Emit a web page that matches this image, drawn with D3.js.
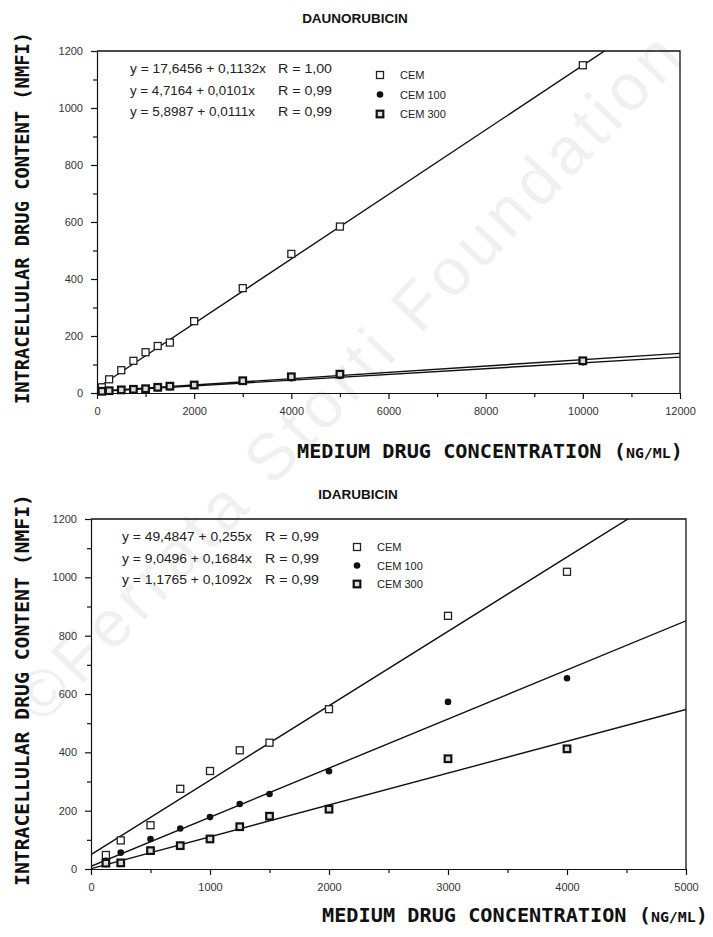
<!DOCTYPE html>
<html>
<head>
<meta charset="utf-8">
<script src="https://cdn.jsdelivr.net/npm/d3@7"></script>
<style>
  body { margin: 0; background: #fff; }
  svg { display: block; }
  .tick text { font-family: "Liberation Sans", Arial, sans-serif; font-size: 11px; fill: #333; }
  .axis path, .axis line { stroke: #111; stroke-width: 1.2; }
</style>
</head>
<body>
<svg id="chart" width="713" height="937"></svg>
<script>
// ---- data ----
var seriesNames = ["CEM", "CEM 100", "CEM 300"];

// daunorubicin panel
var dauConc = [100, 250, 500, 750, 1000, 1250, 1500, 2000, 3000, 4000, 5000, 10000];
var dauCEM = [20, 48, 80, 113, 143, 165, 177, 252, 368, 488, 584, 1150];
var dauCEM100 = [5, 7, 9, 11, 13, 17, 20, 25, 40, 52, 60, 108];
var dauCEM300 = [6, 8, 11, 13, 15, 20, 24, 28, 43, 57, 66, 113];
var dauIntercepts = [17.6456, 4.7164, 5.8987];
var dauSlopes = [0.1132, 0.0101, 0.0111];
var dauEquations = ["y = 17,6456 + 0,1132x", "y = 4,7164 + 0,0101x", "y = 5,8987 + 0,0111x"];
var dauR = ["R = 1,00", "R = 0,99", "R = 0,99"];
var dauXTicks = [0, 2000, 4000, 6000, 8000, 10000, 12000];

// idarubicin panel
var idaConc = [125, 250, 500, 750, 1000, 1250, 1500, 2000, 3000, 4000];
var idaCEM = [48, 98, 150, 275, 336, 407, 433, 548, 868, 1019];
var idaCEM100 = [28, 56, 103, 139, 178, 223, 257, 335, 573, 654];
var idaCEM300 = [20, 21, 63, 80, 103, 145, 181, 205, 378, 412];
var idaIntercepts = [49.4847, 9.0496, 1.1765];
var idaSlopes = [0.255, 0.1684, 0.1092];
var idaEquations = ["y = 49,4847 + 0,255x", "y = 9,0496 + 0,1684x", "y = 1,1765 + 0,1092x"];
var idaR = ["R = 0,99", "R = 0,99", "R = 0,99"];
var idaXTicks = [0, 1000, 2000, 3000, 4000, 5000];

var yTicks = [0, 200, 400, 600, 800, 1000, 1200];

var svg = d3.select("#chart");

// watermark, behind everything
svg.append("text")
    .attr("transform", "translate(42,726) rotate(-46)")
    .attr("textLength", 925)
    .style("font-family", "Liberation Sans, Arial, sans-serif")
    .style("font-size", "66px")
    .style("fill", "#f0f0f0")
    .text("\u00A9Ferrata Storti Foundation");

function marker(g, kind, cx, cy) {
    if (kind === 0) {
        g.append("rect").attr("x", cx - 3.5).attr("y", cy - 3.5).attr("width", 7).attr("height", 7)
            .attr("fill", "#fff").attr("stroke", "#222").attr("stroke-width", 1.3);
    } else if (kind === 1) {
        g.append("circle").attr("cx", cx).attr("cy", cy).attr("r", 3.3).attr("fill", "#111");
    } else {
        g.append("rect").attr("x", cx - 3.3).attr("y", cy - 3.3).attr("width", 6.6).attr("height", 6.6)
            .attr("fill", "#ddd").attr("stroke", "#111").attr("stroke-width", 2.2);
    }
}

function drawPanel(p) {
    var x = d3.scaleLinear().domain([0, p.xMax]).range([p.left, p.right]);
    var y = d3.scaleLinear().domain([0, 1200]).range([p.bottom, p.top]);
    var g = svg.append("g");

    // title
    g.append("text").attr("x", p.titleX).attr("y", p.titleY)
        .attr("text-anchor", "middle")
        .style("font-family", "Liberation Sans, Arial, sans-serif")
        .style("font-size", "13.5px").style("font-weight", "bold").style("fill", "#111")
        .text(p.title);

    // frame top + right
    g.append("path")
        .attr("d", "M" + x(0) + "," + y(1200) + "H" + x(p.xMax) + "V" + y(0))
        .attr("fill", "none").attr("stroke", "#111").attr("stroke-width", 1.3);

    // minor ticks
    g.append("g").attr("class", "axis").attr("transform", "translate(" + p.left + ",0)")
        .call(d3.axisLeft(y).tickValues(d3.range(100, 1200, 200)).tickSize(4).tickFormat(""))
        .call(s => s.select(".domain").remove());
    g.append("g").attr("class", "axis").attr("transform", "translate(0," + p.bottom + ")")
        .call(d3.axisBottom(x).tickValues(p.xMinor).tickSize(4).tickFormat(""))
        .call(s => s.select(".domain").remove());

    // major axes
    g.append("g").attr("class", "axis").attr("transform", "translate(" + p.left + ",0)")
        .call(d3.axisLeft(y).tickValues(yTicks).tickSize(6).tickPadding(8).tickSizeOuter(0)
            .tickFormat(d3.format("d")));
    g.append("g").attr("class", "axis").attr("transform", "translate(0," + p.bottom + ")")
        .call(d3.axisBottom(x).tickValues(p.xTicks).tickSize(6).tickPadding(8).tickSizeOuter(0)
            .tickFormat(d3.format("d")));

    // y axis title
    g.append("text")
        .attr("transform", "translate(" + p.yLabelX + "," + p.yLabelY + ") rotate(-90)")
        .attr("text-anchor", "middle")
        .attr("textLength", p.yLabelLen).attr("lengthAdjust", "spacingAndGlyphs")
        .style("font-family", "DejaVu Sans Mono, monospace")
        .style("font-size", "19px").style("font-weight", "bold").style("fill", "#111")
        .text("INTRACELLULAR DRUG CONTENT (NMFI)");

    // x axis title
    var xt = g.append("text").attr("x", p.xLabelX).attr("y", p.xLabelY)
        .attr("textLength", p.xLabelLen).attr("lengthAdjust", "spacingAndGlyphs")
        .style("font-family", "DejaVu Sans Mono, monospace")
        .style("font-size", "19px").style("font-weight", "bold").style("fill", "#111");
    xt.append("tspan").text("MEDIUM DRUG CONCENTRATION (");
    xt.append("tspan").style("font-size", "14px").text("NG/ML");
    xt.append("tspan").text(")");

    // fitted lines, clipped to plot area
    var clipId = "clip-" + p.id;
    svg.append("clipPath").attr("id", clipId).append("rect")
        .attr("x", p.left).attr("y", p.top).attr("width", p.right - p.left).attr("height", p.bottom - p.top);
    var lineGen = d3.line().x(d => x(d[0])).y(d => y(d[1]));
    var lines = g.append("g").attr("clip-path", "url(#" + clipId + ")");
    p.intercepts.forEach(function (a, i) {
        var b = p.slopes[i];
        lines.append("path")
            .datum([[0, a], [p.xMax, a + b * p.xMax]])
            .attr("d", lineGen)
            .attr("fill", "none").attr("stroke", "#111").attr("stroke-width", 1.4);
    });

    // points
    var pts = g.append("g");
    p.series.forEach(function (vals, k) {
        vals.forEach(function (v, i) { marker(pts, k, x(p.conc[i]), y(v)); });
    });

    // legend: equations + symbols
    var leg = g.append("g")
        .style("font-family", "Liberation Sans, Arial, sans-serif")
        .style("font-size", "12px").style("fill", "#222");
    p.equations.forEach(function (t, i) {
        leg.append("text").attr("x", p.eqX).attr("y", p.eqY + i * p.eqGap)
            .attr("textLength", p.eqLen[i]).attr("lengthAdjust", "spacingAndGlyphs").text(t);
        leg.append("text").attr("x", p.rX).attr("y", p.eqY + i * p.eqGap)
            .attr("textLength", p.rLen).attr("lengthAdjust", "spacingAndGlyphs").text(p.rs[i]);
    });
    seriesNames.forEach(function (n, i) {
        marker(leg, i, p.legX, p.legY + i * p.legGap);
        leg.append("text").attr("x", p.legX + 20).attr("y", p.legY + i * p.legGap + 4)
            .style("font-size", "11px").text(n);
    });
}

drawPanel({
    id: "dau", title: "DAUNORUBICIN", titleX: 355, titleY: 23,
    xMax: 12000, left: 97, right: 680, top: 51, bottom: 393,
    xTicks: dauXTicks, xMinor: d3.range(1000, 12000, 2000),
    conc: dauConc, series: [dauCEM, dauCEM100, dauCEM300],
    intercepts: dauIntercepts, slopes: dauSlopes, equations: dauEquations, rs: dauR,
    eqX: 130, eqLen: [136, 125, 125], rX: 278, rLen: 54, eqY: 73, eqGap: 21.5,
    legX: 380, legY: 75, legGap: 19.5,
    yLabelX: 29, yLabelY: 218, yLabelLen: 372,
    xLabelX: 297, xLabelY: 458, xLabelLen: 386
});

drawPanel({
    id: "ida", title: "IDARUBICIN", titleX: 358, titleY: 499,
    xMax: 5000, left: 91, right: 686, top: 519, bottom: 869,
    xTicks: idaXTicks, xMinor: d3.range(500, 5000, 1000),
    conc: idaConc, series: [idaCEM, idaCEM100, idaCEM300],
    intercepts: idaIntercepts, slopes: idaSlopes, equations: idaEquations, rs: idaR,
    eqX: 122, eqLen: [130, 130, 130], rX: 265, rLen: 54, eqY: 541, eqGap: 21.5,
    legX: 357, legY: 547, legGap: 18.5,
    yLabelX: 29, yLabelY: 690, yLabelLen: 392,
    xLabelX: 322, xLabelY: 922, xLabelLen: 386
});
</script>
</body>
</html>
